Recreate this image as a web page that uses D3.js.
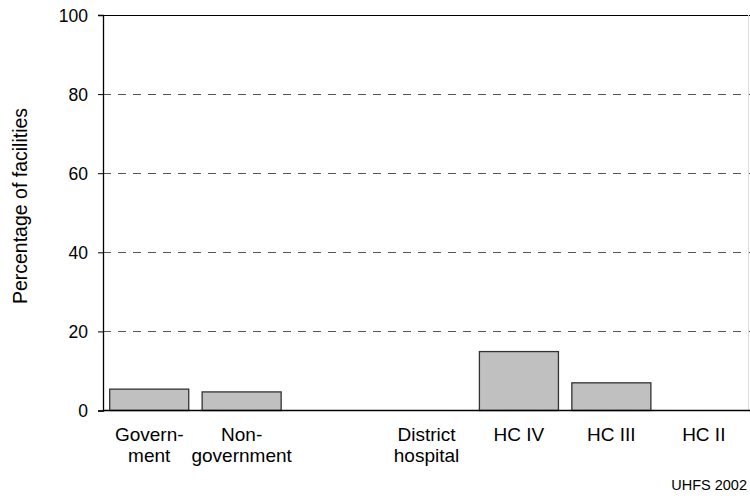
<!DOCTYPE html>
<html lang="en">
<head>
<meta charset="UTF-8">
<title>Percentage of facilities</title>
<script src="https://d3js.org/d3.v7.min.js"></script>
<style>
    body { margin: 0; background: #fff; }
    text { font-family: "Liberation Sans", Arial, sans-serif; fill: #000; }
</style>
</head>
<body>
<div id="chart"></div>
<script>
    // categories (blank slot separates ownership from facility level)
    const categories = ["Government", "Non-government", "", "District hospital", "HC IV", "HC III", "HC II"];
    const labelLines = [["Govern-", "ment"], ["Non-", "government"], [], ["District", "hospital"], ["HC IV"], ["HC III"], ["HC II"]];
    const values = [5.4, 4.7, null, 0, 14.9, 7.0, 0];
    const yTicks = [0, 20, 40, 60, 80, 100];

    const W = 750, H = 496;
    const margin = { top: 15, right: 0, bottom: 85, left: 103 };

    const svg = d3.select("#chart").append("svg")
        .attr("width", W)
        .attr("height", H);

    const x = d3.scaleBand()
        .domain(categories.map((c, i) => i))
        .range([margin.left, W])
        .paddingInner(0.145)
        .paddingOuter(0.0725);

    const y = d3.scaleLinear()
        .domain([0, 100])
        .range([H - margin.bottom - 0.5, margin.top]);

    // dashed grid
    svg.append("g")
        .selectAll("line")
        .data(yTicks.filter(d => d > 0))
        .join("line")
        .attr("x1", margin.left)
        .attr("x2", W)
        .attr("y1", d => Math.round(y(d)) + 0.5)
        .attr("y2", d => Math.round(y(d)) + 0.5)
        .attr("stroke", "#555")
        .attr("stroke-width", 1.2)
        .attr("stroke-dasharray", "8,7");

    // frame: top black, right light gray
    svg.append("line")
        .attr("x1", margin.left).attr("x2", W)
        .attr("y1", Math.round(y(100)) + 0.5).attr("y2", Math.round(y(100)) + 0.5)
        .attr("stroke", "#000").attr("stroke-width", 1);
    svg.append("line")
        .attr("x1", W - 1.5).attr("x2", W - 1.5)
        .attr("y1", y(100)).attr("y2", y(0))
        .attr("stroke", "#ddd").attr("stroke-width", 1);

    // bars
    svg.append("g")
        .selectAll("rect")
        .data(values.map((v, i) => ({ v, i })).filter(d => d.v !== null && d.v > 0))
        .join("rect")
        .attr("x", d => x(d.i))
        .attr("width", x.bandwidth())
        .attr("y", d => y(d.v))
        .attr("height", d => y(0) - y(d.v))
        .attr("fill", "#c0c0c0")
        .attr("stroke", "#333")
        .attr("stroke-width", 1.3);

    // y axis
    const yAxis = svg.append("g")
        .attr("transform", `translate(${margin.left},0)`)
        .call(d3.axisLeft(y).tickValues(yTicks).tickSize(5).tickPadding(10));
    yAxis.select(".domain").attr("stroke", "#000").attr("stroke-width", 1.3);
    yAxis.selectAll(".tick line").attr("stroke", "#000");
    yAxis.selectAll("text").style("font-size", "17.5px").attr("dy", "0.36em");

    // x axis baseline
    svg.append("line")
        .attr("x1", margin.left).attr("x2", W)
        .attr("y1", y(0)).attr("y2", y(0))
        .attr("stroke", "#000").attr("stroke-width", 1.3);

    // category labels
    const xl = svg.append("g");
    labelLines.forEach((lines, i) => {
        const t = xl.append("text")
            .attr("text-anchor", "middle")
            .attr("x", x(i) + x.bandwidth() / 2)
            .attr("y", 441)
            .style("font-size", "19px");
        lines.forEach((ln, j) => {
            t.append("tspan")
                .attr("x", x(i) + x.bandwidth() / 2)
                .attr("dy", j === 0 ? 0 : 20.5)
                .text(ln);
        });
    });

    // y label
    svg.append("text")
        .attr("transform", `translate(20,206) rotate(-90)`)
        .attr("text-anchor", "middle")
        .attr("dy", "0.35em")
        .style("font-size", "19.5px")
        .text("Percentage of facilities");

    // source note
    svg.append("text")
        .attr("x", 747)
        .attr("y", 490)
        .attr("text-anchor", "end")
        .style("font-size", "14.5px")
        .text("UHFS 2002");
</script>
</body>
</html>
